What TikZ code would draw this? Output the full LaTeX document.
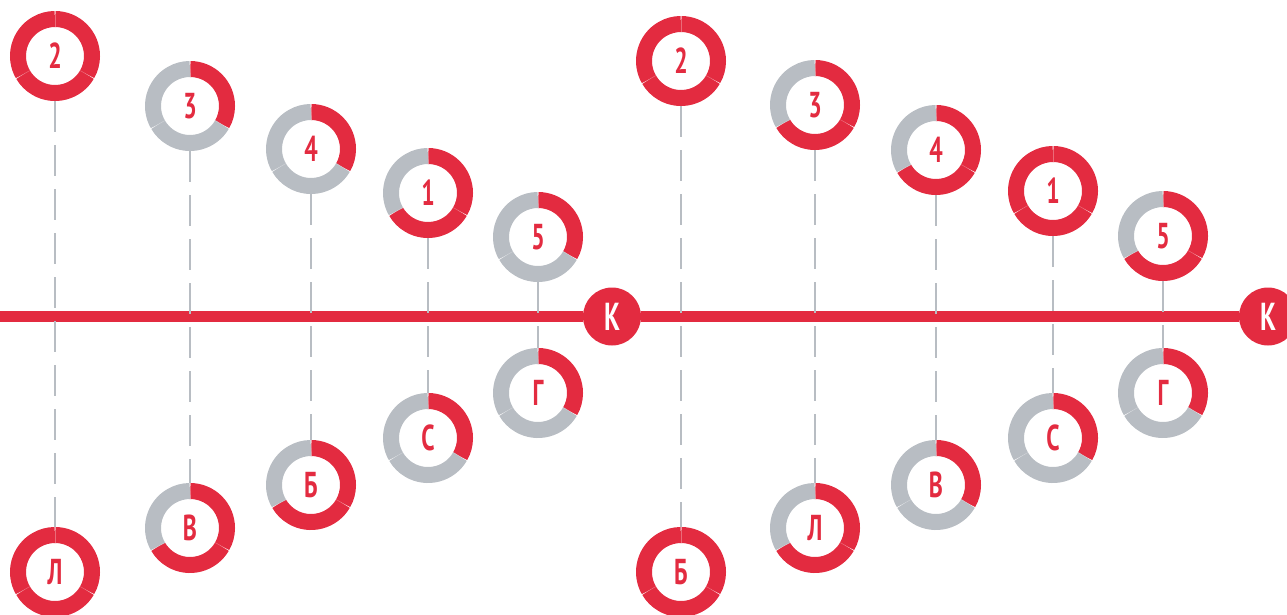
\documentclass[tikz,border=0pt]{standalone}
\usepackage{fontspec}
\usetikzlibrary{backgrounds}
\newfontfamily\lblfont[FakeStretch=0.66]{PT Sans}
\definecolor{ringred}{HTML}{E32B40}
\definecolor{ringgray}{HTML}{B8BDC3}

% ring of three equal segments around a node; #2 of them red, clockwise from the top
\newcommand\donutring[2]{%
  \foreach \k in {0,1,2}{%
    \ifnum\k<#2\relax\def\segcol{ringred}\else\def\segcol{ringgray}\fi
    \draw[\segcol, line width=16pt]
      ([shift={(90-120*\k:37)}]#1.center) arc[start angle=90-120*\k, delta angle=-120, radius=37];
  }%
  \foreach \a in {90,-30,-150}
    \draw[white, line width=0.5pt, opacity=0.3]
      ([shift={(\a:29)}]#1.center) -- ([shift={(\a:45)}]#1.center);
}

\tikzset{
  x=1pt, y=1pt,
  ringnode/.style={circle, minimum size=90pt, inner sep=0pt, text=ringred,
    font=\lblfont\bfseries\fontsize{36}{36}\selectfont},
  knode/.style={circle, fill=ringred, minimum size=58pt, inner sep=0pt, text=white,
    font=\lblfont\bfseries\fontsize{39}{39}\selectfont},
  stem/.style={ringgray, line width=2.8pt, dash pattern=on 31pt off 13pt},
  mainline/.style={ringred, line width=11pt},
}

\begin{document}
\begin{tikzpicture}
\useasboundingbox (0,0) rectangle (1287,-615);
\clip (0,0) rectangle (1287,-615);

% left group: upper rings
\node[ringnode] (a2) at (55,-56) {2};
\node[ringnode] (a3) at (190,-106) {3};
\node[ringnode] (a4) at (311,-149) {4};
\node[ringnode] (a1) at (428,-193) {1};
\node[ringnode] (a5) at (538,-237) {5};
% left group: lower rings
\node[ringnode] (aL) at (55,-572) {Л};
\node[ringnode] (aV) at (190,-528) {В};
\node[ringnode] (aB) at (311,-485) {Б};
\node[ringnode] (aS) at (428,-438) {С};
\node[ringnode] (aG) at (538,-393) {Г};

% right group: upper rings
\node[ringnode] (b2) at (681,-61) {2};
\node[ringnode] (b3) at (815,-105) {3};
\node[ringnode] (b4) at (936,-150) {4};
\node[ringnode] (b1) at (1053,-191) {1};
\node[ringnode] (b5) at (1163,-236) {5};
% right group: lower rings
\node[ringnode] (bB) at (681,-572) {Б};
\node[ringnode] (bL) at (815,-528) {Л};
\node[ringnode] (bV) at (936,-485) {В};
\node[ringnode] (bS) at (1053,-438) {С};
\node[ringnode] (bG) at (1163,-393) {Г};

% markers on the axis
\node[knode] (kA) at (612,-316.5) {К};
\node[knode] (kB) at (1268,-316.5) {К};
\coordinate (lstart) at (0,-316.5);

% axis line behind everything
\begin{scope}[on background layer]
  \draw[mainline] (lstart) -- (kA) -- (kB);
\end{scope}

% ring segments
\donutring{a2}{3} \donutring{a3}{1} \donutring{a4}{1} \donutring{a1}{2} \donutring{a5}{1}
\donutring{aL}{3} \donutring{aV}{2} \donutring{aB}{2} \donutring{aS}{1} \donutring{aG}{1}
\donutring{b2}{3} \donutring{b3}{2} \donutring{b4}{2} \donutring{b1}{3} \donutring{b5}{2}
\donutring{bB}{3} \donutring{bL}{2} \donutring{bV}{1} \donutring{bS}{1} \donutring{bG}{1}

% dashed stems joining upper and lower rings
\draw[stem] (a2) -- (aL);
\draw[stem] (a3) -- (aV);
\draw[stem] (a4) -- (aB);
\draw[stem] (a1) -- (aS);
\draw[stem] (a5) -- (aG);
\draw[stem] (b2) -- (bB);
\draw[stem] (b3) -- (bL);
\draw[stem] (b4) -- (bV);
\draw[stem] (b1) -- (bS);
\draw[stem] (b5) -- (bG);
\end{tikzpicture}
\end{document}
